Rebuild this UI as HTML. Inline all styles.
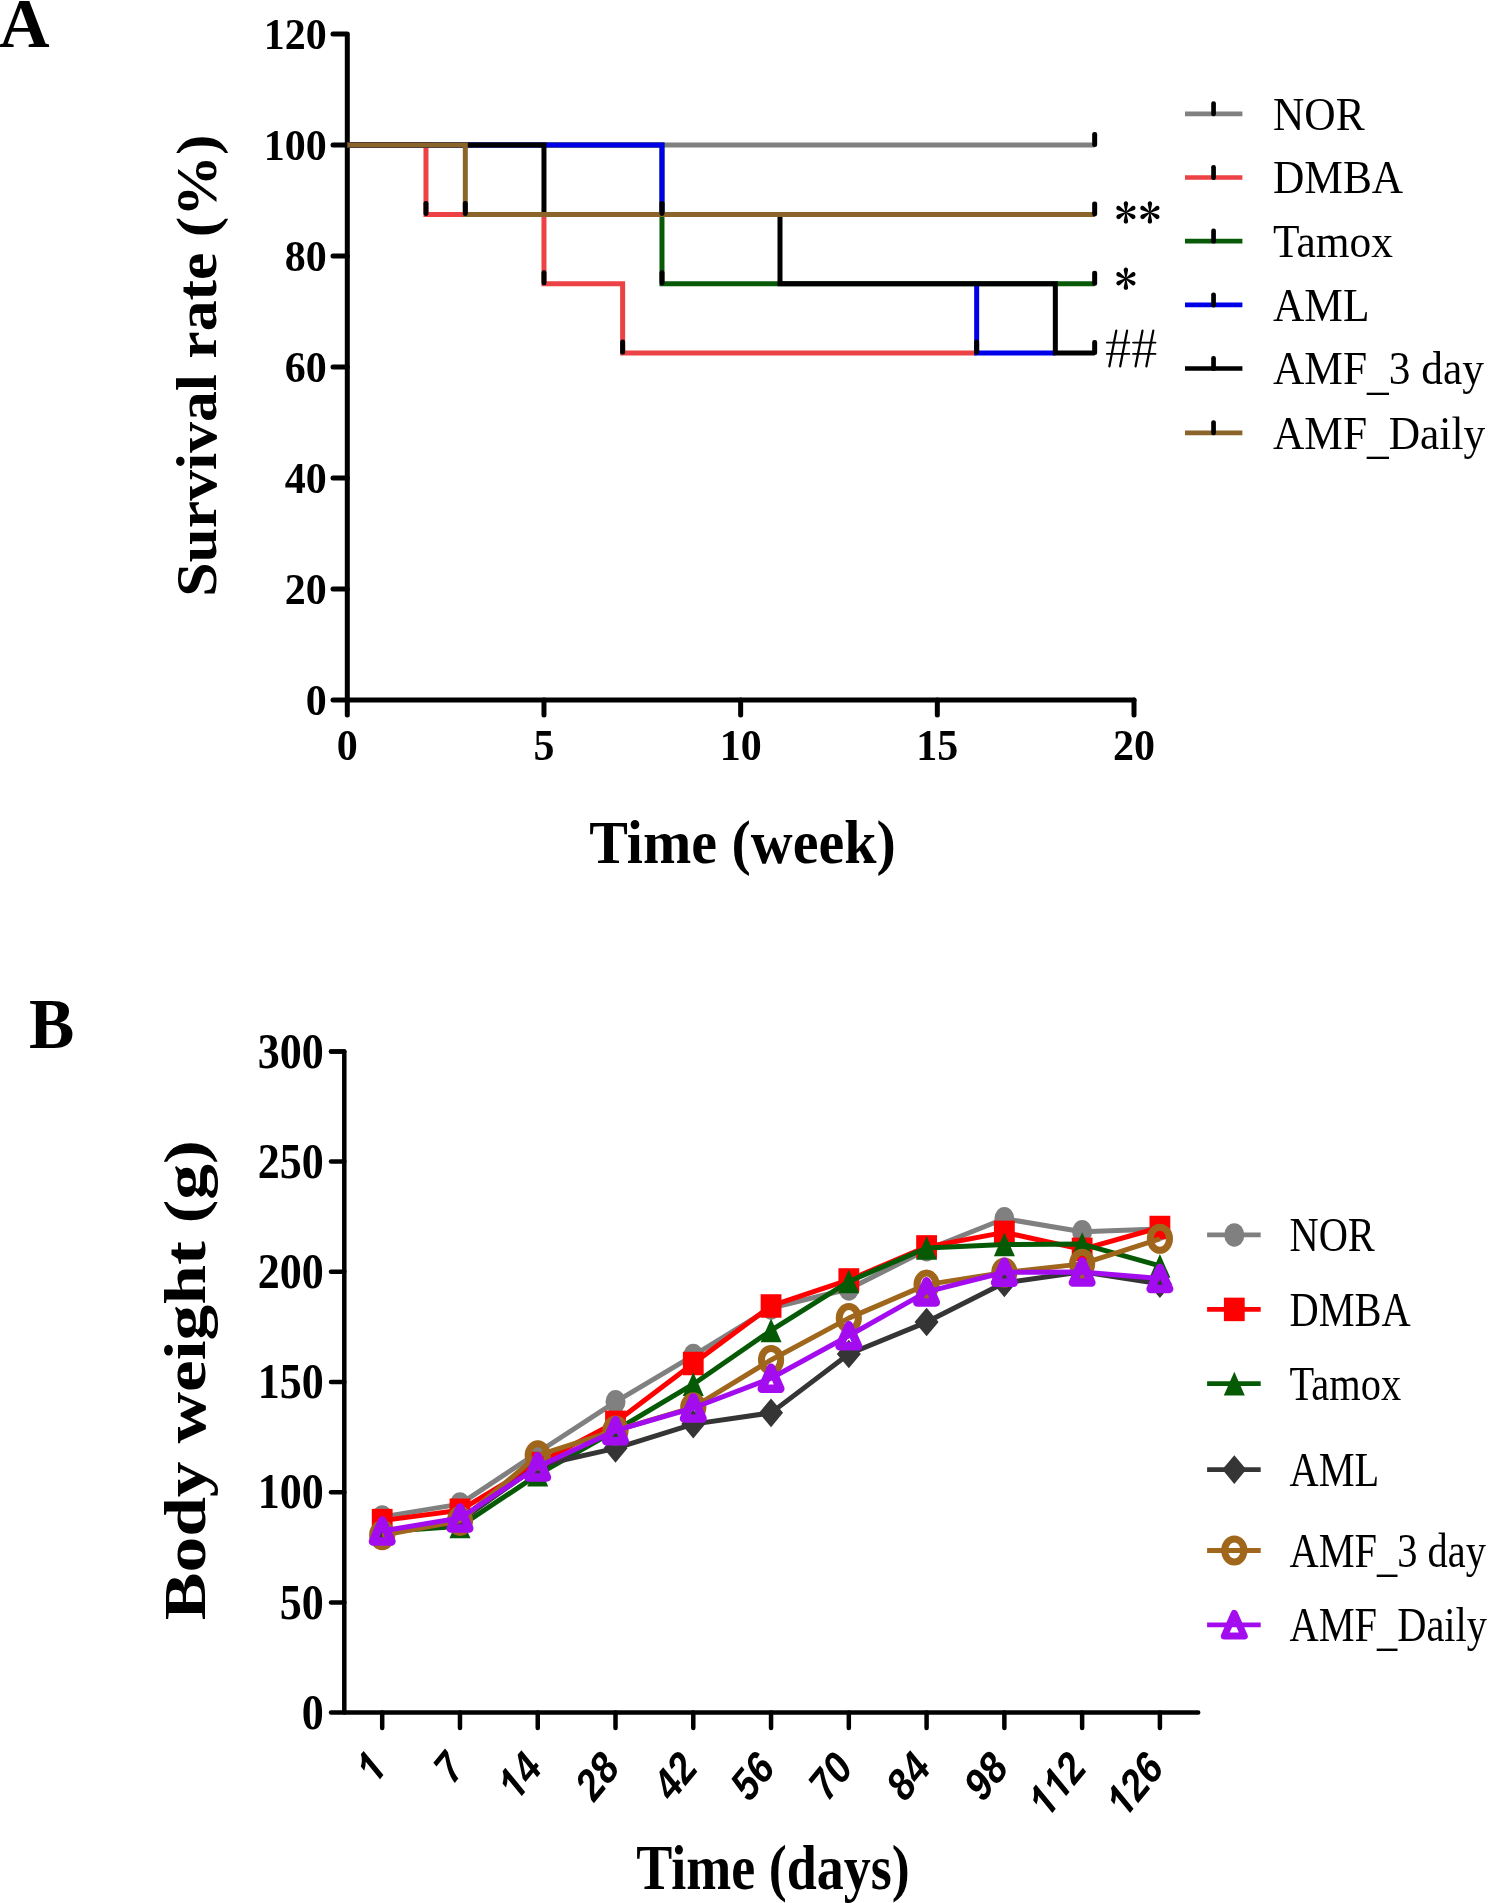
<!DOCTYPE html>
<html><head><meta charset="utf-8"><title>Survival and body weight</title>
<style>html,body{margin:0;padding:0;background:#fff;} svg{display:block;will-change:transform;}</style>
</head><body>
<svg width="1489" height="1903" viewBox="0 0 1489 1903"><text transform="translate(-1.00,46.70)" style="font-family:'Liberation Serif',serif;font-size:70px;font-weight:bold" text-anchor="start" fill="#000">A</text>
<path d="M333,34.00 L347.30,34.00 L347.30,700.0 L1134.00,700.0" fill="none" stroke="#000" stroke-width="5.0" stroke-linecap="round" stroke-linejoin="round"/>
<line x1="333" y1="700.00" x2="347.30" y2="700.00" stroke="#000" stroke-width="5.0" stroke-linecap="round"/>
<line x1="333" y1="589.00" x2="347.30" y2="589.00" stroke="#000" stroke-width="5.0" stroke-linecap="round"/>
<line x1="333" y1="478.00" x2="347.30" y2="478.00" stroke="#000" stroke-width="5.0" stroke-linecap="round"/>
<line x1="333" y1="367.00" x2="347.30" y2="367.00" stroke="#000" stroke-width="5.0" stroke-linecap="round"/>
<line x1="333" y1="256.00" x2="347.30" y2="256.00" stroke="#000" stroke-width="5.0" stroke-linecap="round"/>
<line x1="333" y1="145.00" x2="347.30" y2="145.00" stroke="#000" stroke-width="5.0" stroke-linecap="round"/>
<line x1="347.30" y1="700.0" x2="347.30" y2="715" stroke="#000" stroke-width="5.0" stroke-linecap="round"/>
<line x1="543.98" y1="700.0" x2="543.98" y2="715" stroke="#000" stroke-width="5.0" stroke-linecap="round"/>
<line x1="740.65" y1="700.0" x2="740.65" y2="715" stroke="#000" stroke-width="5.0" stroke-linecap="round"/>
<line x1="937.33" y1="700.0" x2="937.33" y2="715" stroke="#000" stroke-width="5.0" stroke-linecap="round"/>
<line x1="1134.00" y1="700.0" x2="1134.00" y2="715" stroke="#000" stroke-width="5.0" stroke-linecap="round"/>
<text transform="translate(326.70,714.60) scale(1.0000,1.0570)" style="font-family:'Liberation Serif',serif;font-size:42px;font-weight:bold" text-anchor="end" fill="#000">0</text>
<text transform="translate(326.70,603.60) scale(1.0000,1.0570)" style="font-family:'Liberation Serif',serif;font-size:42px;font-weight:bold" text-anchor="end" fill="#000">20</text>
<text transform="translate(326.70,492.60) scale(1.0000,1.0570)" style="font-family:'Liberation Serif',serif;font-size:42px;font-weight:bold" text-anchor="end" fill="#000">40</text>
<text transform="translate(326.70,381.60) scale(1.0000,1.0570)" style="font-family:'Liberation Serif',serif;font-size:42px;font-weight:bold" text-anchor="end" fill="#000">60</text>
<text transform="translate(326.70,270.60) scale(1.0000,1.0570)" style="font-family:'Liberation Serif',serif;font-size:42px;font-weight:bold" text-anchor="end" fill="#000">80</text>
<text transform="translate(326.70,159.60) scale(1.0000,1.0570)" style="font-family:'Liberation Serif',serif;font-size:42px;font-weight:bold" text-anchor="end" fill="#000">100</text>
<text transform="translate(326.70,48.60) scale(1.0000,1.0570)" style="font-family:'Liberation Serif',serif;font-size:42px;font-weight:bold" text-anchor="end" fill="#000">120</text>
<text transform="translate(347.30,759.50) scale(1.0000,1.0570)" style="font-family:'Liberation Serif',serif;font-size:42px;font-weight:bold" text-anchor="middle" fill="#000">0</text>
<text transform="translate(543.98,759.50) scale(1.0000,1.0570)" style="font-family:'Liberation Serif',serif;font-size:42px;font-weight:bold" text-anchor="middle" fill="#000">5</text>
<text transform="translate(740.65,759.50) scale(1.0000,1.0570)" style="font-family:'Liberation Serif',serif;font-size:42px;font-weight:bold" text-anchor="middle" fill="#000">10</text>
<text transform="translate(937.33,759.50) scale(1.0000,1.0570)" style="font-family:'Liberation Serif',serif;font-size:42px;font-weight:bold" text-anchor="middle" fill="#000">15</text>
<text transform="translate(1134.00,759.50) scale(1.0000,1.0570)" style="font-family:'Liberation Serif',serif;font-size:42px;font-weight:bold" text-anchor="middle" fill="#000">20</text>
<text transform="translate(742.50,862.80) scale(1.0000,1.0650)" style="font-family:'Liberation Serif',serif;font-size:58px;font-weight:bold" text-anchor="middle" fill="#000">Time (week)</text>
<text transform="translate(215.50,365.60) rotate(-90) scale(1.0630,1.0000)" style="font-family:'Liberation Serif',serif;font-size:58px;font-weight:bold" text-anchor="middle" fill="#000">Survival rate (%)</text>
<path d="M347.30,145.00 L1094.66,145.00" fill="none" stroke="#808080" stroke-width="5.0" stroke-linejoin="miter" stroke-linecap="butt"/>
<path d="M347.30,145.00 L425.97,145.00 L425.97,214.38 L465.31,214.38 M543.98,214.38 L543.98,283.75 L622.64,283.75 L622.64,353.12 L976.66,353.12" fill="none" stroke="#ec4245" stroke-width="5.0" stroke-linejoin="miter" stroke-linecap="butt"/>
<path d="M347.30,145.00 L661.98,145.00 L661.98,283.75 L1094.66,283.75" fill="none" stroke="#085a08" stroke-width="5.0" stroke-linejoin="miter" stroke-linecap="butt"/>
<path d="M347.30,145.00 L661.98,145.00 L661.98,214.38 M976.66,283.75 L976.66,353.12 L1055.33,353.12" fill="none" stroke="#0000e8" stroke-width="5.0" stroke-linejoin="miter" stroke-linecap="butt"/>
<path d="M347.30,145.00 L543.98,145.00 L543.98,214.38 L779.99,214.38 L779.99,283.75 L1055.33,283.75 L1055.33,353.12 L1094.66,353.12" fill="none" stroke="#000000" stroke-width="5.0" stroke-linejoin="miter" stroke-linecap="butt"/>
<path d="M347.30,145.00 L465.31,145.00 L465.31,214.38 L1094.66,214.38" fill="none" stroke="#8a6428" stroke-width="5.0" stroke-linejoin="miter" stroke-linecap="butt"/>
<rect x="423.47" y="200.88" width="5" height="15.00" rx="2.3" fill="#000"/>
<rect x="462.81" y="200.88" width="5" height="15.00" rx="2.3" fill="#000"/>
<rect x="541.48" y="270.25" width="5" height="15.00" rx="2.3" fill="#000"/>
<rect x="620.14" y="339.62" width="5" height="15.00" rx="2.3" fill="#000"/>
<rect x="659.48" y="200.88" width="5" height="15.00" rx="2.3" fill="#000"/>
<rect x="659.48" y="270.25" width="5" height="15.00" rx="2.3" fill="#000"/>
<rect x="974.16" y="339.62" width="5" height="15.00" rx="2.3" fill="#000"/>
<rect x="1092.16" y="132.00" width="5" height="15.00" rx="2.3" fill="#000"/>
<rect x="1092.16" y="201.38" width="5" height="15.00" rx="2.3" fill="#000"/>
<rect x="1092.16" y="270.75" width="5" height="15.00" rx="2.3" fill="#000"/>
<rect x="1092.16" y="340.12" width="5" height="15.00" rx="2.3" fill="#000"/>
<path transform="translate(1125.90,212.40) scale(0.96,1) rotate(0)" d="M-0.5,0 L-2.2,-8.20 A2.3,2.3 0 1 1 2.2,-8.20 L0.5,0 Z" fill="#000"/><path transform="translate(1125.90,212.40) scale(0.96,1) rotate(60)" d="M-0.5,0 L-2.2,-8.20 A2.3,2.3 0 1 1 2.2,-8.20 L0.5,0 Z" fill="#000"/><path transform="translate(1125.90,212.40) scale(0.96,1) rotate(120)" d="M-0.5,0 L-2.2,-8.20 A2.3,2.3 0 1 1 2.2,-8.20 L0.5,0 Z" fill="#000"/><path transform="translate(1125.90,212.40) scale(0.96,1) rotate(180)" d="M-0.5,0 L-2.2,-8.20 A2.3,2.3 0 1 1 2.2,-8.20 L0.5,0 Z" fill="#000"/><path transform="translate(1125.90,212.40) scale(0.96,1) rotate(240)" d="M-0.5,0 L-2.2,-8.20 A2.3,2.3 0 1 1 2.2,-8.20 L0.5,0 Z" fill="#000"/><path transform="translate(1125.90,212.40) scale(0.96,1) rotate(300)" d="M-0.5,0 L-2.2,-8.20 A2.3,2.3 0 1 1 2.2,-8.20 L0.5,0 Z" fill="#000"/>
<path transform="translate(1149.90,212.40) scale(0.96,1) rotate(0)" d="M-0.5,0 L-2.2,-8.20 A2.3,2.3 0 1 1 2.2,-8.20 L0.5,0 Z" fill="#000"/><path transform="translate(1149.90,212.40) scale(0.96,1) rotate(60)" d="M-0.5,0 L-2.2,-8.20 A2.3,2.3 0 1 1 2.2,-8.20 L0.5,0 Z" fill="#000"/><path transform="translate(1149.90,212.40) scale(0.96,1) rotate(120)" d="M-0.5,0 L-2.2,-8.20 A2.3,2.3 0 1 1 2.2,-8.20 L0.5,0 Z" fill="#000"/><path transform="translate(1149.90,212.40) scale(0.96,1) rotate(180)" d="M-0.5,0 L-2.2,-8.20 A2.3,2.3 0 1 1 2.2,-8.20 L0.5,0 Z" fill="#000"/><path transform="translate(1149.90,212.40) scale(0.96,1) rotate(240)" d="M-0.5,0 L-2.2,-8.20 A2.3,2.3 0 1 1 2.2,-8.20 L0.5,0 Z" fill="#000"/><path transform="translate(1149.90,212.40) scale(0.96,1) rotate(300)" d="M-0.5,0 L-2.2,-8.20 A2.3,2.3 0 1 1 2.2,-8.20 L0.5,0 Z" fill="#000"/>
<path transform="translate(1125.90,278.70) scale(0.96,1) rotate(0)" d="M-0.5,0 L-2.2,-8.20 A2.3,2.3 0 1 1 2.2,-8.20 L0.5,0 Z" fill="#000"/><path transform="translate(1125.90,278.70) scale(0.96,1) rotate(60)" d="M-0.5,0 L-2.2,-8.20 A2.3,2.3 0 1 1 2.2,-8.20 L0.5,0 Z" fill="#000"/><path transform="translate(1125.90,278.70) scale(0.96,1) rotate(120)" d="M-0.5,0 L-2.2,-8.20 A2.3,2.3 0 1 1 2.2,-8.20 L0.5,0 Z" fill="#000"/><path transform="translate(1125.90,278.70) scale(0.96,1) rotate(180)" d="M-0.5,0 L-2.2,-8.20 A2.3,2.3 0 1 1 2.2,-8.20 L0.5,0 Z" fill="#000"/><path transform="translate(1125.90,278.70) scale(0.96,1) rotate(240)" d="M-0.5,0 L-2.2,-8.20 A2.3,2.3 0 1 1 2.2,-8.20 L0.5,0 Z" fill="#000"/><path transform="translate(1125.90,278.70) scale(0.96,1) rotate(300)" d="M-0.5,0 L-2.2,-8.20 A2.3,2.3 0 1 1 2.2,-8.20 L0.5,0 Z" fill="#000"/>
<line x1="1116.30" y1="330.60" x2="1109.40" y2="366.30" stroke="#000" stroke-width="2.25" stroke-linecap="round"/><line x1="1127.10" y1="330.60" x2="1120.20" y2="366.30" stroke="#000" stroke-width="2.25" stroke-linecap="round"/><line x1="1106.90" y1="342.60" x2="1129.30" y2="342.60" stroke="#000" stroke-width="1.9" stroke-linecap="round"/><line x1="1106.90" y1="353.90" x2="1129.30" y2="353.90" stroke="#000" stroke-width="1.9" stroke-linecap="round"/><line x1="1142.50" y1="330.60" x2="1135.60" y2="366.30" stroke="#000" stroke-width="2.25" stroke-linecap="round"/><line x1="1153.30" y1="330.60" x2="1146.40" y2="366.30" stroke="#000" stroke-width="2.25" stroke-linecap="round"/><line x1="1133.10" y1="342.60" x2="1155.50" y2="342.60" stroke="#000" stroke-width="1.9" stroke-linecap="round"/><line x1="1133.10" y1="353.90" x2="1155.50" y2="353.90" stroke="#000" stroke-width="1.9" stroke-linecap="round"/>
<line x1="1185" y1="113.8" x2="1242.4" y2="113.8" stroke="#808080" stroke-width="4.7"/>
<rect x="1211.2" y="101.30" width="4.7" height="15" rx="2.2" fill="#000"/>
<text transform="translate(1273.00,129.70) scale(1.0000,1.0700)" style="font-family:'Liberation Serif',serif;font-size:43.4px;font-weight:normal" text-anchor="start" fill="#000">NOR</text>
<line x1="1185" y1="177.5" x2="1242.4" y2="177.5" stroke="#ec4245" stroke-width="4.7"/>
<rect x="1211.2" y="165.00" width="4.7" height="15" rx="2.2" fill="#000"/>
<text transform="translate(1273.00,193.40) scale(1.0000,1.0700)" style="font-family:'Liberation Serif',serif;font-size:43.4px;font-weight:normal" text-anchor="start" fill="#000">DMBA</text>
<line x1="1185" y1="241.1" x2="1242.4" y2="241.1" stroke="#085a08" stroke-width="4.7"/>
<rect x="1211.2" y="228.60" width="4.7" height="15" rx="2.2" fill="#000"/>
<text transform="translate(1273.00,257.00) scale(1.0000,1.0700)" style="font-family:'Liberation Serif',serif;font-size:43.4px;font-weight:normal" text-anchor="start" fill="#000">Tamox</text>
<line x1="1185" y1="304.9" x2="1242.4" y2="304.9" stroke="#0000e8" stroke-width="4.7"/>
<rect x="1211.2" y="292.40" width="4.7" height="15" rx="2.2" fill="#000"/>
<text transform="translate(1273.00,320.80) scale(1.0000,1.0700)" style="font-family:'Liberation Serif',serif;font-size:43.4px;font-weight:normal" text-anchor="start" fill="#000">AML</text>
<line x1="1185" y1="368.5" x2="1242.4" y2="368.5" stroke="#000000" stroke-width="4.7"/>
<rect x="1211.2" y="356.00" width="4.7" height="15" rx="2.2" fill="#000"/>
<text transform="translate(1273.00,384.40) scale(1.0000,1.0700)" style="font-family:'Liberation Serif',serif;font-size:43.4px;font-weight:normal" text-anchor="start" fill="#000">AMF<tspan dy="4.30">_</tspan><tspan dy="-4.30">3 day</tspan></text>
<line x1="1185" y1="432.8" x2="1242.4" y2="432.8" stroke="#8a6428" stroke-width="4.7"/>
<rect x="1211.2" y="420.30" width="4.7" height="15" rx="2.2" fill="#000"/>
<text transform="translate(1273.00,448.70) scale(1.0000,1.0700)" style="font-family:'Liberation Serif',serif;font-size:43.4px;font-weight:normal" text-anchor="start" fill="#000">AMF<tspan dy="4.30">_</tspan><tspan dy="-4.30">Daily</tspan></text>
<text transform="translate(29.00,1047.60) scale(1.0000,1.0450)" style="font-family:'Liberation Serif',serif;font-size:68px;font-weight:bold" text-anchor="start" fill="#000">B</text>
<path d="M331,1051.43 L344.3,1051.43 L344.3,1712.6 L1198.2,1712.6" fill="none" stroke="#000" stroke-width="4.5" stroke-linecap="round" stroke-linejoin="round"/>
<line x1="331" y1="1712.60" x2="344.3" y2="1712.60" stroke="#000" stroke-width="4.5" stroke-linecap="round"/>
<text transform="translate(323.70,1728.80) scale(1.0000,1.1300)" style="font-family:'Liberation Serif',serif;font-size:44px;font-weight:bold" text-anchor="end" fill="#000">0</text>
<line x1="331" y1="1602.40" x2="344.3" y2="1602.40" stroke="#000" stroke-width="4.5" stroke-linecap="round"/>
<text transform="translate(323.70,1618.61) scale(1.0000,1.1300)" style="font-family:'Liberation Serif',serif;font-size:44px;font-weight:bold" text-anchor="end" fill="#000">50</text>
<line x1="331" y1="1492.21" x2="344.3" y2="1492.21" stroke="#000" stroke-width="4.5" stroke-linecap="round"/>
<text transform="translate(323.70,1508.41) scale(1.0000,1.1300)" style="font-family:'Liberation Serif',serif;font-size:44px;font-weight:bold" text-anchor="end" fill="#000">100</text>
<line x1="331" y1="1382.01" x2="344.3" y2="1382.01" stroke="#000" stroke-width="4.5" stroke-linecap="round"/>
<text transform="translate(323.70,1398.21) scale(1.0000,1.1300)" style="font-family:'Liberation Serif',serif;font-size:44px;font-weight:bold" text-anchor="end" fill="#000">150</text>
<line x1="331" y1="1271.82" x2="344.3" y2="1271.82" stroke="#000" stroke-width="4.5" stroke-linecap="round"/>
<text transform="translate(323.70,1288.02) scale(1.0000,1.1300)" style="font-family:'Liberation Serif',serif;font-size:44px;font-weight:bold" text-anchor="end" fill="#000">200</text>
<line x1="331" y1="1161.62" x2="344.3" y2="1161.62" stroke="#000" stroke-width="4.5" stroke-linecap="round"/>
<text transform="translate(323.70,1177.83) scale(1.0000,1.1300)" style="font-family:'Liberation Serif',serif;font-size:44px;font-weight:bold" text-anchor="end" fill="#000">250</text>
<line x1="331" y1="1051.43" x2="344.3" y2="1051.43" stroke="#000" stroke-width="4.5" stroke-linecap="round"/>
<text transform="translate(323.70,1067.63) scale(1.0000,1.1300)" style="font-family:'Liberation Serif',serif;font-size:44px;font-weight:bold" text-anchor="end" fill="#000">300</text>
<line x1="382.20" y1="1712.6" x2="382.20" y2="1728" stroke="#000" stroke-width="4.5" stroke-linecap="round"/>
<g transform="translate(387.20,1770.50) scale(1,1.22) rotate(-45) scale(0.9,1)"><path transform="translate(-21.69,0) scale(0.01904,-0.01904)" d="M828,0 L547,0 L547,1059 Q393,915 184,846 L184,1101 Q294,1137 423,1238 Q552,1339 600,1472 L828,1472 Z" fill="#000"/></g>
<line x1="459.97" y1="1712.6" x2="459.97" y2="1728" stroke="#000" stroke-width="4.5" stroke-linecap="round"/>
<g transform="translate(464.97,1770.50) scale(1,1.22) rotate(-45) scale(0.9,1)"><text x="-21.69" y="0" style="font-family:'Liberation Sans',sans-serif;font-size:39px;font-weight:bold">7</text></g>
<line x1="537.74" y1="1712.6" x2="537.74" y2="1728" stroke="#000" stroke-width="4.5" stroke-linecap="round"/>
<g transform="translate(542.74,1770.50) scale(1,1.22) rotate(-45) scale(0.9,1)"><path transform="translate(-43.38,0) scale(0.01904,-0.01904)" d="M828,0 L547,0 L547,1059 Q393,915 184,846 L184,1101 Q294,1137 423,1238 Q552,1339 600,1472 L828,1472 Z" fill="#000"/><text x="-21.69" y="0" style="font-family:'Liberation Sans',sans-serif;font-size:39px;font-weight:bold">4</text></g>
<line x1="615.51" y1="1712.6" x2="615.51" y2="1728" stroke="#000" stroke-width="4.5" stroke-linecap="round"/>
<g transform="translate(620.51,1770.50) scale(1,1.22) rotate(-45) scale(0.9,1)"><text x="-43.38" y="0" style="font-family:'Liberation Sans',sans-serif;font-size:39px;font-weight:bold">2</text><text x="-21.69" y="0" style="font-family:'Liberation Sans',sans-serif;font-size:39px;font-weight:bold">8</text></g>
<line x1="693.28" y1="1712.6" x2="693.28" y2="1728" stroke="#000" stroke-width="4.5" stroke-linecap="round"/>
<g transform="translate(698.28,1770.50) scale(1,1.22) rotate(-45) scale(0.9,1)"><text x="-43.38" y="0" style="font-family:'Liberation Sans',sans-serif;font-size:39px;font-weight:bold">4</text><text x="-21.69" y="0" style="font-family:'Liberation Sans',sans-serif;font-size:39px;font-weight:bold">2</text></g>
<line x1="771.05" y1="1712.6" x2="771.05" y2="1728" stroke="#000" stroke-width="4.5" stroke-linecap="round"/>
<g transform="translate(776.05,1770.50) scale(1,1.22) rotate(-45) scale(0.9,1)"><text x="-43.38" y="0" style="font-family:'Liberation Sans',sans-serif;font-size:39px;font-weight:bold">5</text><text x="-21.69" y="0" style="font-family:'Liberation Sans',sans-serif;font-size:39px;font-weight:bold">6</text></g>
<line x1="848.82" y1="1712.6" x2="848.82" y2="1728" stroke="#000" stroke-width="4.5" stroke-linecap="round"/>
<g transform="translate(853.82,1770.50) scale(1,1.22) rotate(-45) scale(0.9,1)"><text x="-43.38" y="0" style="font-family:'Liberation Sans',sans-serif;font-size:39px;font-weight:bold">7</text><text x="-21.69" y="0" style="font-family:'Liberation Sans',sans-serif;font-size:39px;font-weight:bold">0</text></g>
<line x1="926.59" y1="1712.6" x2="926.59" y2="1728" stroke="#000" stroke-width="4.5" stroke-linecap="round"/>
<g transform="translate(931.59,1770.50) scale(1,1.22) rotate(-45) scale(0.9,1)"><text x="-43.38" y="0" style="font-family:'Liberation Sans',sans-serif;font-size:39px;font-weight:bold">8</text><text x="-21.69" y="0" style="font-family:'Liberation Sans',sans-serif;font-size:39px;font-weight:bold">4</text></g>
<line x1="1004.36" y1="1712.6" x2="1004.36" y2="1728" stroke="#000" stroke-width="4.5" stroke-linecap="round"/>
<g transform="translate(1009.36,1770.50) scale(1,1.22) rotate(-45) scale(0.9,1)"><text x="-43.38" y="0" style="font-family:'Liberation Sans',sans-serif;font-size:39px;font-weight:bold">9</text><text x="-21.69" y="0" style="font-family:'Liberation Sans',sans-serif;font-size:39px;font-weight:bold">8</text></g>
<line x1="1082.13" y1="1712.6" x2="1082.13" y2="1728" stroke="#000" stroke-width="4.5" stroke-linecap="round"/>
<g transform="translate(1087.13,1770.50) scale(1,1.22) rotate(-45) scale(0.9,1)"><path transform="translate(-65.07,0) scale(0.01904,-0.01904)" d="M828,0 L547,0 L547,1059 Q393,915 184,846 L184,1101 Q294,1137 423,1238 Q552,1339 600,1472 L828,1472 Z" fill="#000"/><path transform="translate(-43.38,0) scale(0.01904,-0.01904)" d="M828,0 L547,0 L547,1059 Q393,915 184,846 L184,1101 Q294,1137 423,1238 Q552,1339 600,1472 L828,1472 Z" fill="#000"/><text x="-21.69" y="0" style="font-family:'Liberation Sans',sans-serif;font-size:39px;font-weight:bold">2</text></g>
<line x1="1159.90" y1="1712.6" x2="1159.90" y2="1728" stroke="#000" stroke-width="4.5" stroke-linecap="round"/>
<g transform="translate(1164.90,1770.50) scale(1,1.22) rotate(-45) scale(0.9,1)"><path transform="translate(-65.07,0) scale(0.01904,-0.01904)" d="M828,0 L547,0 L547,1059 Q393,915 184,846 L184,1101 Q294,1137 423,1238 Q552,1339 600,1472 L828,1472 Z" fill="#000"/><text x="-43.38" y="0" style="font-family:'Liberation Sans',sans-serif;font-size:39px;font-weight:bold">2</text><text x="-21.69" y="0" style="font-family:'Liberation Sans',sans-serif;font-size:39px;font-weight:bold">6</text></g>
<text transform="translate(773.00,1889.10) scale(1.0000,1.1900)" style="font-family:'Liberation Serif',serif;font-size:54px;font-weight:bold" text-anchor="middle" fill="#000">Time (days)</text>
<text transform="translate(205.00,1380.20) rotate(-90) scale(1.1900,1.0000)" style="font-family:'Liberation Serif',serif;font-size:60px;font-weight:bold" text-anchor="middle" fill="#000">Body weight (g)</text>
<path d="M382.20,1516.89 L459.97,1504.11 L537.74,1452.54 L615.51,1401.85 L693.28,1355.57 L771.05,1307.96 L848.82,1289.01 L926.59,1249.78 L1004.36,1218.71 L1082.13,1231.71 L1159.90,1229.06" fill="none" stroke="#808080" stroke-width="5.0" stroke-linejoin="round"/>
<ellipse cx="382.20" cy="1516.89" rx="10" ry="11.75" fill="#808080"/><ellipse cx="459.97" cy="1504.11" rx="10" ry="11.75" fill="#808080"/><ellipse cx="537.74" cy="1452.54" rx="10" ry="11.75" fill="#808080"/><ellipse cx="615.51" cy="1401.85" rx="10" ry="11.75" fill="#808080"/><ellipse cx="693.28" cy="1355.57" rx="10" ry="11.75" fill="#808080"/><ellipse cx="771.05" cy="1307.96" rx="10" ry="11.75" fill="#808080"/><ellipse cx="848.82" cy="1289.01" rx="10" ry="11.75" fill="#808080"/><ellipse cx="926.59" cy="1249.78" rx="10" ry="11.75" fill="#808080"/><ellipse cx="1004.36" cy="1218.71" rx="10" ry="11.75" fill="#808080"/><ellipse cx="1082.13" cy="1231.71" rx="10" ry="11.75" fill="#808080"/><ellipse cx="1159.90" cy="1229.06" rx="10" ry="11.75" fill="#808080"/>
<path d="M382.20,1520.64 L459.97,1510.28 L537.74,1463.56 L615.51,1422.35 L693.28,1363.50 L771.05,1305.98 L848.82,1279.97 L926.59,1246.92 L1004.36,1232.37 L1082.13,1249.34 L1159.90,1227.52" fill="none" stroke="#ff0000" stroke-width="5.0" stroke-linejoin="round"/>
<rect x="371.80" y="1508.89" width="20.8" height="23.5" fill="#ff0000"/><rect x="449.57" y="1498.53" width="20.8" height="23.5" fill="#ff0000"/><rect x="527.34" y="1451.81" width="20.8" height="23.5" fill="#ff0000"/><rect x="605.11" y="1410.60" width="20.8" height="23.5" fill="#ff0000"/><rect x="682.88" y="1351.75" width="20.8" height="23.5" fill="#ff0000"/><rect x="760.65" y="1294.23" width="20.8" height="23.5" fill="#ff0000"/><rect x="838.42" y="1268.22" width="20.8" height="23.5" fill="#ff0000"/><rect x="916.19" y="1235.17" width="20.8" height="23.5" fill="#ff0000"/><rect x="993.96" y="1220.62" width="20.8" height="23.5" fill="#ff0000"/><rect x="1071.73" y="1237.59" width="20.8" height="23.5" fill="#ff0000"/><rect x="1149.50" y="1215.77" width="20.8" height="23.5" fill="#ff0000"/>
<path d="M382.20,1531.88 L459.97,1526.37 L537.74,1474.58 L615.51,1430.50 L693.28,1384.22 L771.05,1330.44 L848.82,1281.52 L926.59,1248.02 L1004.36,1244.49 L1082.13,1244.05 L1159.90,1265.87" fill="none" stroke="#065a06" stroke-width="5.0" stroke-linejoin="round"/>
<path d="M382.20,1520.03 L392.70,1543.73 L371.70,1543.73 Z" fill="#065a06"/><path d="M459.97,1514.52 L470.47,1538.22 L449.47,1538.22 Z" fill="#065a06"/><path d="M537.74,1462.73 L548.24,1486.43 L527.24,1486.43 Z" fill="#065a06"/><path d="M615.51,1418.65 L626.01,1442.35 L605.01,1442.35 Z" fill="#065a06"/><path d="M693.28,1372.37 L703.78,1396.07 L682.78,1396.07 Z" fill="#065a06"/><path d="M771.05,1318.59 L781.55,1342.29 L760.55,1342.29 Z" fill="#065a06"/><path d="M848.82,1269.67 L859.32,1293.37 L838.32,1293.37 Z" fill="#065a06"/><path d="M926.59,1236.17 L937.09,1259.87 L916.09,1259.87 Z" fill="#065a06"/><path d="M1004.36,1232.64 L1014.86,1256.34 L993.86,1256.34 Z" fill="#065a06"/><path d="M1082.13,1232.20 L1092.63,1255.90 L1071.63,1255.90 Z" fill="#065a06"/><path d="M1159.90,1254.02 L1170.40,1277.72 L1149.40,1277.72 Z" fill="#065a06"/>
<path d="M382.20,1531.88 L459.97,1520.86 L537.74,1465.76 L615.51,1448.35 L693.28,1424.11 L771.05,1412.87 L848.82,1354.03 L926.59,1322.07 L1004.36,1282.84 L1082.13,1271.82 L1159.90,1283.72" fill="none" stroke="#353535" stroke-width="5.0" stroke-linejoin="round"/>
<path d="M382.20,1517.58 L394.20,1531.88 L382.20,1546.18 L370.20,1531.88 Z" fill="#353535"/><path d="M459.97,1506.56 L471.97,1520.86 L459.97,1535.16 L447.97,1520.86 Z" fill="#353535"/><path d="M537.74,1451.46 L549.74,1465.76 L537.74,1480.06 L525.74,1465.76 Z" fill="#353535"/><path d="M615.51,1434.05 L627.51,1448.35 L615.51,1462.65 L603.51,1448.35 Z" fill="#353535"/><path d="M693.28,1409.81 L705.28,1424.11 L693.28,1438.41 L681.28,1424.11 Z" fill="#353535"/><path d="M771.05,1398.57 L783.05,1412.87 L771.05,1427.17 L759.05,1412.87 Z" fill="#353535"/><path d="M848.82,1339.73 L860.82,1354.03 L848.82,1368.33 L836.82,1354.03 Z" fill="#353535"/><path d="M926.59,1307.77 L938.59,1322.07 L926.59,1336.37 L914.59,1322.07 Z" fill="#353535"/><path d="M1004.36,1268.54 L1016.36,1282.84 L1004.36,1297.14 L992.36,1282.84 Z" fill="#353535"/><path d="M1082.13,1257.52 L1094.13,1271.82 L1082.13,1286.12 L1070.13,1271.82 Z" fill="#353535"/><path d="M1159.90,1269.42 L1171.90,1283.72 L1159.90,1298.02 L1147.90,1283.72 Z" fill="#353535"/>
<path d="M382.20,1535.19 L459.97,1520.86 L537.74,1455.40 L615.51,1430.50 L693.28,1407.36 L771.05,1359.98 L848.82,1318.10 L926.59,1284.60 L1004.36,1272.48 L1082.13,1263.89 L1159.90,1238.76" fill="none" stroke="#a0661c" stroke-width="5.0" stroke-linejoin="round"/>
<ellipse cx="382.20" cy="1535.19" rx="9.6" ry="11.6" fill="none" stroke="#a0661c" stroke-width="7"/><ellipse cx="459.97" cy="1520.86" rx="9.6" ry="11.6" fill="none" stroke="#a0661c" stroke-width="7"/><ellipse cx="537.74" cy="1455.40" rx="9.6" ry="11.6" fill="none" stroke="#a0661c" stroke-width="7"/><ellipse cx="615.51" cy="1430.50" rx="9.6" ry="11.6" fill="none" stroke="#a0661c" stroke-width="7"/><ellipse cx="693.28" cy="1407.36" rx="9.6" ry="11.6" fill="none" stroke="#a0661c" stroke-width="7"/><ellipse cx="771.05" cy="1359.98" rx="9.6" ry="11.6" fill="none" stroke="#a0661c" stroke-width="7"/><ellipse cx="848.82" cy="1318.10" rx="9.6" ry="11.6" fill="none" stroke="#a0661c" stroke-width="7"/><ellipse cx="926.59" cy="1284.60" rx="9.6" ry="11.6" fill="none" stroke="#a0661c" stroke-width="7"/><ellipse cx="1004.36" cy="1272.48" rx="9.6" ry="11.6" fill="none" stroke="#a0661c" stroke-width="7"/><ellipse cx="1082.13" cy="1263.89" rx="9.6" ry="11.6" fill="none" stroke="#a0661c" stroke-width="7"/><ellipse cx="1159.90" cy="1238.76" rx="9.6" ry="11.6" fill="none" stroke="#a0661c" stroke-width="7"/>
<path d="M382.20,1531.00 L459.97,1518.00 L537.74,1466.87 L615.51,1430.72 L693.28,1408.02 L771.05,1378.27 L848.82,1335.73 L926.59,1291.88 L1004.36,1272.26 L1082.13,1272.04 L1159.90,1278.43" fill="none" stroke="#a40cf0" stroke-width="5.0" stroke-linejoin="round"/>
<path d="M382.20,1520.45 L391.45,1541.55 L372.95,1541.55 Z" fill="none" stroke="#a40cf0" stroke-width="8.5" stroke-linejoin="round"/><path d="M459.97,1507.45 L469.22,1528.55 L450.72,1528.55 Z" fill="none" stroke="#a40cf0" stroke-width="8.5" stroke-linejoin="round"/><path d="M537.74,1456.32 L546.99,1477.42 L528.49,1477.42 Z" fill="none" stroke="#a40cf0" stroke-width="8.5" stroke-linejoin="round"/><path d="M615.51,1420.17 L624.76,1441.27 L606.26,1441.27 Z" fill="none" stroke="#a40cf0" stroke-width="8.5" stroke-linejoin="round"/><path d="M693.28,1397.47 L702.53,1418.57 L684.03,1418.57 Z" fill="none" stroke="#a40cf0" stroke-width="8.5" stroke-linejoin="round"/><path d="M771.05,1367.72 L780.30,1388.82 L761.80,1388.82 Z" fill="none" stroke="#a40cf0" stroke-width="8.5" stroke-linejoin="round"/><path d="M848.82,1325.18 L858.07,1346.28 L839.57,1346.28 Z" fill="none" stroke="#a40cf0" stroke-width="8.5" stroke-linejoin="round"/><path d="M926.59,1281.33 L935.84,1302.43 L917.34,1302.43 Z" fill="none" stroke="#a40cf0" stroke-width="8.5" stroke-linejoin="round"/><path d="M1004.36,1261.71 L1013.61,1282.81 L995.11,1282.81 Z" fill="none" stroke="#a40cf0" stroke-width="8.5" stroke-linejoin="round"/><path d="M1082.13,1261.49 L1091.38,1282.59 L1072.88,1282.59 Z" fill="none" stroke="#a40cf0" stroke-width="8.5" stroke-linejoin="round"/><path d="M1159.90,1267.88 L1169.15,1288.98 L1150.65,1288.98 Z" fill="none" stroke="#a40cf0" stroke-width="8.5" stroke-linejoin="round"/>
<line x1="1207.1" y1="1234.9" x2="1260.7" y2="1234.9" stroke="#808080" stroke-width="4.8"/>
<ellipse cx="1234.30" cy="1234.90" rx="10" ry="11.75" fill="#808080"/>
<text transform="translate(1289.50,1251.10) scale(1.0000,1.2100)" style="font-family:'Liberation Serif',serif;font-size:40.4px;font-weight:normal" text-anchor="start" fill="#000">NOR</text>
<line x1="1207.1" y1="1309.4" x2="1260.7" y2="1309.4" stroke="#ff0000" stroke-width="4.8"/>
<rect x="1223.90" y="1297.65" width="20.8" height="23.5" fill="#ff0000"/>
<text transform="translate(1289.50,1325.60) scale(1.0000,1.2100)" style="font-family:'Liberation Serif',serif;font-size:40.4px;font-weight:normal" text-anchor="start" fill="#000">DMBA</text>
<line x1="1207.1" y1="1383.7" x2="1260.7" y2="1383.7" stroke="#065a06" stroke-width="4.8"/>
<path d="M1234.30,1371.85 L1244.80,1395.55 L1223.80,1395.55 Z" fill="#065a06"/>
<text transform="translate(1289.50,1399.90) scale(1.0000,1.2100)" style="font-family:'Liberation Serif',serif;font-size:40.4px;font-weight:normal" text-anchor="start" fill="#000">Tamox</text>
<line x1="1207.1" y1="1469.6" x2="1260.7" y2="1469.6" stroke="#353535" stroke-width="4.8"/>
<path d="M1234.30,1455.30 L1246.30,1469.60 L1234.30,1483.90 L1222.30,1469.60 Z" fill="#353535"/>
<text transform="translate(1289.50,1485.80) scale(1.0000,1.2100)" style="font-family:'Liberation Serif',serif;font-size:40.4px;font-weight:normal" text-anchor="start" fill="#000">AML</text>
<line x1="1207.1" y1="1550.5" x2="1260.7" y2="1550.5" stroke="#a0661c" stroke-width="4.8"/>
<ellipse cx="1234.30" cy="1550.50" rx="9.6" ry="11.6" fill="none" stroke="#a0661c" stroke-width="7"/>
<text transform="translate(1289.50,1566.70) scale(1.0000,1.2100)" style="font-family:'Liberation Serif',serif;font-size:40.4px;font-weight:normal" text-anchor="start" fill="#000">AMF<tspan dy="3.50">_</tspan><tspan dy="-3.50">3 day</tspan></text>
<line x1="1207.1" y1="1624.8" x2="1260.7" y2="1624.8" stroke="#a40cf0" stroke-width="4.8"/>
<path d="M1234.30,1613.50 L1244.30,1636.10 L1224.30,1636.10 Z" fill="none" stroke="#a40cf0" stroke-width="7.0" stroke-linejoin="round"/>
<text transform="translate(1289.50,1641.00) scale(1.0000,1.2100)" style="font-family:'Liberation Serif',serif;font-size:40.4px;font-weight:normal" text-anchor="start" fill="#000">AMF<tspan dy="3.50">_</tspan><tspan dy="-3.50">Daily</tspan></text></svg>
</body></html>
